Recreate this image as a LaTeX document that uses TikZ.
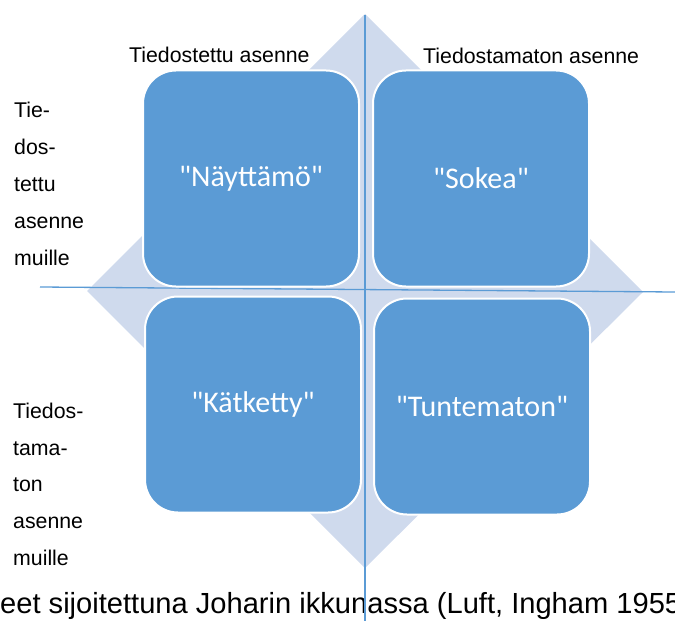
\documentclass[tikz,border=0pt]{standalone}
\usepackage{fontspec}
\setmainfont{Liberation Sans}
\newfontfamily\boxfont{Carlito}
\definecolor{boxblue}{HTML}{5B9BD5}
\definecolor{diamondfill}{HTML}{CFDAED}
\definecolor{axisblue}{HTML}{5B9BD5}
\begin{document}
\begin{tikzpicture}[x=1bp,y=-1bp,
  quad/.style={draw=white, line width=2bp, fill=boxblue, rounded corners=33bp,
    minimum width=216bp, minimum height=216bp, inner sep=0pt,
    text=white, font=\boxfont\fontsize{30bp}{35bp}\selectfont},
  lab/.style={anchor=base west, inner sep=0pt, text=black,
    font=\fontsize{21.3bp}{25bp}\selectfont},
  axis/.style={draw=axisblue, line width=1.3bp}]
\useasboundingbox (0,0) rectangle (675,621);
\clip (0,0) rectangle (675,621);
% background diamond
\fill[diamondfill] (365,14) -- (643,292) -- (365,568) -- (87,291) -- cycle;
% axes
\coordinate (vtop) at (365,15);
\coordinate (vbot) at (365,621);
\coordinate (hl) at (40,287);
\coordinate (hr) at (675,292);
\draw[axis] (vtop) -- (vbot);
\draw[axis] (hl) -- (hr);
% quadrant boxes
\node[quad] (tl) at (251,178.5) {"Näyttämö"};
\node[quad] (tr) at (481,178.5) {"Sokea"};
\node[quad] (bl) at (253,404.5) {"Kätketty"};
\node[quad] (br) at (482,406.5) {"Tuntematon"};
% top labels
\node[lab] (ttl) at (129,63) {Tiedostettu asenne};
\node[lab] (ttr) at (423,64) {Tiedostamaton asenne};
% left labels (top)
\node[lab] (la1) at (14,117.5) {Tie-};
\node[lab] (la2) at (14,154.5) {dos-};
\node[lab] (la3) at (14,191.5) {tettu};
\node[lab] (la4) at (14,228.5) {asenne};
\node[lab] (la5) at (14,265.5) {muille};
% left labels (bottom)
\node[lab] (lb1) at (13,418) {Tiedos-};
\node[lab] (lb2) at (13,455) {tama-};
\node[lab] (lb3) at (13,491.5) {ton};
\node[lab] (lb4) at (13,528) {asenne};
\node[lab] (lb5) at (13,565) {muille};
% caption (cut off)
\node[anchor=base west, inner sep=0pt, font=\fontsize{29.1bp}{33bp}\selectfont] (cap) at (0,613) {eet sijoitettuna Joharin ikkunassa (Luft, Ingham 1955};
\draw[axis] (365,568) -- (vbot);
\end{tikzpicture}
\end{document}
